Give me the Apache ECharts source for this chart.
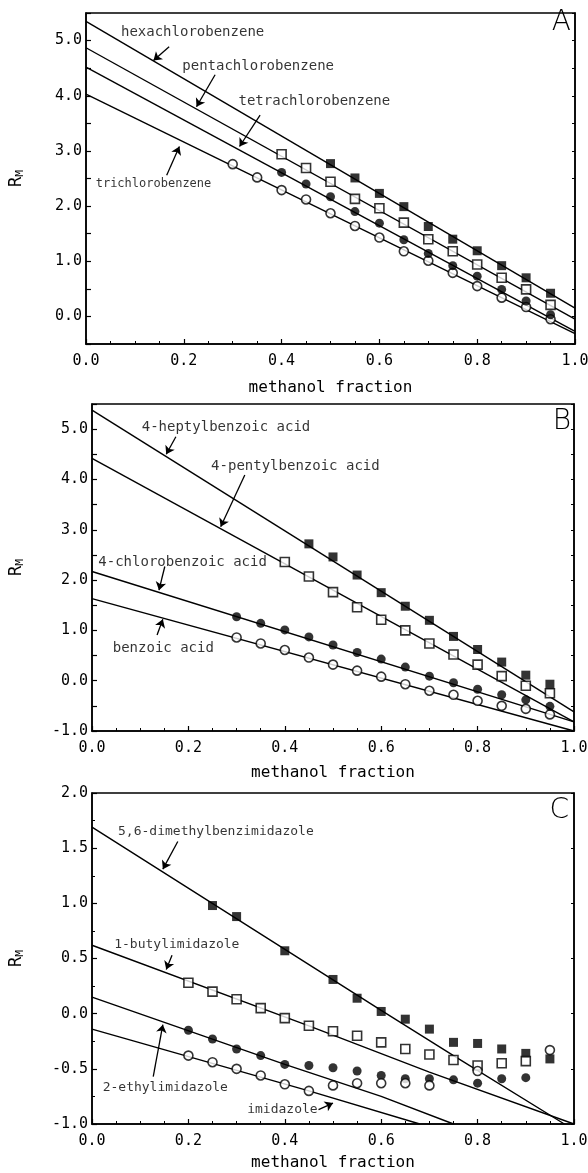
<!DOCTYPE html>
<html>
<head>
<meta charset="utf-8">
<title>RM vs methanol fraction</title>
<script src="https://cdn.jsdelivr.net/npm/echarts@6/dist/echarts.min.js"></script>
<style>
  html, body { margin: 0; padding: 0; background: #fff; }
  #chart { width: 588px; height: 1173px; }
</style>
</head>
<body>
<div id="chart"></div>
<script>
var mono = 'DejaVu Sans Mono'

// ---- panel A: chlorobenzenes
var xA = [0.30, 0.35, 0.40, 0.45, 0.50, 0.55, 0.60, 0.65, 0.70, 0.75, 0.80, 0.85, 0.90, 0.95]
var triA = [2.76, 2.52, 2.29, 2.12, 1.87, 1.64, 1.43, 1.18, 1.01, 0.79, 0.55, 0.34, 0.17, -0.05]
var tetraA = [null, null, 2.61, 2.40, 2.17, 1.90, 1.69, 1.39, 1.14, 0.92, 0.73, 0.49, 0.28, 0.03]
var pentaA = [null, null, 2.94, 2.69, 2.44, 2.13, 1.96, 1.70, 1.40, 1.18, 0.94, 0.70, 0.49, 0.21]
var hexaA = [null, null, null, null, 2.77, 2.51, 2.23, 1.99, 1.63, 1.40, 1.19, 0.92, 0.70, 0.42]
var fitTri = [[0, 4.03], [1, -0.31]]
var fitTetra = [[0, 4.52], [1, -0.27]]
var fitPenta = [[0, 4.87], [1, -0.05]]
var fitHexa = [[0, 5.35], [1, 0.15]]
var labelsA = [
  ['hexachlorobenzene', 0.218, 5.15, 14],
  ['pentachlorobenzene', 0.352, 4.53, 14],
  ['tetrachlorobenzene', 0.467, 3.89, 14],
  ['trichlorobenzene', 0.138, 2.41, 12]
]
var arrowsA = [
  [0.170, 4.89, 0.138, 4.64],
  [0.264, 4.38, 0.226, 3.80],
  [0.356, 3.65, 0.314, 3.08],
  [0.165, 2.56, 0.191, 3.08]
]

// ---- panel B: benzoic acids
var xB = [0.30, 0.35, 0.40, 0.45, 0.50, 0.55, 0.60, 0.65, 0.70, 0.75, 0.80, 0.85, 0.90, 0.95]
var benzoicB = [0.86, 0.74, 0.61, 0.46, 0.32, 0.20, 0.08, -0.07, -0.20, -0.28, -0.40, -0.50, -0.56, -0.67]
var chloroB = [1.27, 1.14, 1.01, 0.87, 0.71, 0.56, 0.43, 0.27, 0.09, -0.04, -0.17, -0.28, -0.38, -0.51]
var pentylB = [null, null, 2.36, 2.07, 1.76, 1.46, 1.21, 1.00, 0.74, 0.52, 0.32, 0.09, -0.10, -0.25]
var heptylB = [null, null, null, 2.72, 2.46, 2.10, 1.75, 1.48, 1.20, 0.88, 0.62, 0.37, 0.11, -0.07]
var fitBenzoic = [[0, 1.63], [1, -1.0]]
var fitChloro = [[0, 2.17], [1, -0.82]]
var fitPentyl = [[0, 4.42], [1, -0.82]]
var fitHeptyl = [[0, 5.38], [1, -0.62]]
var labelsB = [
  ['4-heptylbenzoic acid', 0.278, 5.03, 14],
  ['4-pentylbenzoic acid', 0.422, 4.27, 14],
  ['4-chlorobenzoic acid', 0.188, 2.35, 14],
  ['benzoic acid', 0.148, 0.64, 14]
]
var arrowsB = [
  [0.174, 4.85, 0.154, 4.50],
  [0.317, 4.09, 0.267, 3.06],
  [0.151, 2.27, 0.139, 1.80],
  [0.135, 0.91, 0.147, 1.22]
]

// ---- panel C: imidazoles
var xC = [0.20, 0.25, 0.30, 0.35, 0.40, 0.45, 0.50, 0.55, 0.60, 0.65, 0.70, 0.75, 0.80, 0.85, 0.90, 0.95]
var imidC = [-0.38, -0.44, -0.50, -0.56, -0.64, -0.70, -0.65, -0.63, -0.63, -0.63, -0.65, null, -0.52, null, null, -0.33]
var ethylC = [-0.15, -0.23, -0.32, -0.38, -0.46, -0.47, -0.49, -0.52, -0.56, -0.59, -0.59, -0.60, -0.63, -0.59, -0.58, null]
var butylC = [0.28, 0.20, 0.13, 0.05, -0.04, -0.11, -0.16, -0.20, -0.26, -0.32, -0.37, -0.42, -0.47, -0.45, -0.43, null]
var dimethylC = [null, 0.98, 0.88, null, 0.57, null, 0.31, 0.14, 0.02, -0.05, -0.14, -0.26, -0.27, -0.32, -0.36, -0.41]
var fitImid = [[0, -0.14], [0.45, -0.70], [0.68, -1.0]]
var fitEthyl = [[0, 0.15], [0.4, -0.46], [0.6, -0.75], [0.75, -1.0]]
var fitButyl = [[0, 0.62], [0.45, -0.11], [0.7, -0.53], [1.0, -1.0]]
var fitDimethyl = [[0, 1.69], [0.6, 0.03], [0.75, -0.38], [0.98, -1.0]]
var labelsC = [
  ['5,6-dimethylbenzimidazole', 0.257, 1.65, 13],
  ['1-butylimidazole', 0.176, 0.63, 13],
  ['2-ethylimidazole', 0.152, -0.67, 13],
  ['imidazole', 0.395, -0.87, 13]
]
var arrowsC = [
  [0.178, 1.56, 0.147, 1.31],
  [0.166, 0.53, 0.154, 0.40],
  [0.127, -0.57, 0.147, -0.10],
  [0.470, -0.87, 0.500, -0.81]
]

var chart = echarts.init(document.getElementById('chart'))

function pairs (xs, ys) {
  var out = []
  xs.forEach(function (x, i) {
    if (ys[i] !== null) out.push([x, ys[i]])
  })
  return out
}

var markers = {
  filledSquare: { symbol: 'rect', itemStyle: { color: '#000' } },
  openSquare: { symbol: 'rect', itemStyle: { color: '#fff', borderColor: '#000', borderWidth: 1.6 } },
  filledCircle: { symbol: 'circle', itemStyle: { color: '#000' } },
  openCircle: { symbol: 'circle', itemStyle: { color: '#fff', borderColor: '#000', borderWidth: 1.6 } }
}

function points (panel, xs, ys, kind) {
  return {
    type: 'scatter',
    xAxisIndex: panel,
    yAxisIndex: panel * 2,
    symbol: markers[kind].symbol,
    symbolSize: 9,
    itemStyle: markers[kind].itemStyle,
    z: 5,
    data: pairs(xs, ys)
  }
}

function fit (panel, line) {
  return {
    type: 'line',
    xAxisIndex: panel,
    yAxisIndex: panel * 2,
    symbol: 'none',
    lineStyle: { color: '#000', width: 1.4 },
    z: 3,
    data: line
  }
}

function notes (panel, labels, arrows) {
  return {
    type: 'scatter',
    xAxisIndex: panel,
    yAxisIndex: panel * 2,
    symbolSize: 1,
    itemStyle: { color: 'rgba(0,0,0,0)' },
    silent: true,
    z: 6,
    data: labels.map(function (l) {
      return {
        value: [l[1], l[2]],
        label: {
          show: true,
          position: 'inside',
          formatter: l[0],
          fontFamily: mono,
          fontSize: l[3],
          color: '#000'
        }
      }
    }),
    markLine: {
      silent: true,
      symbol: ['none', 'arrow'],
      symbolSize: 8,
      label: { show: false },
      lineStyle: { color: '#000', width: 1.3, type: 'solid' },
      data: arrows.map(function (a) {
        return [{ coord: [a[0], a[1]] }, { coord: [a[2], a[3]] }]
      })
    }
  }
}

var grids = [
  { left: 86, top: 13, width: 489, height: 331 },
  { left: 92, top: 404, width: 482, height: 327 },
  { left: 92, top: 793, width: 482, height: 331 }
]
grids.forEach(function (g) {
  g.show = true
  g.borderColor = '#000'
  g.borderWidth = 1.5
  g.containLabel = false
  g.outerBoundsMode = 'none'
})

var xNameGaps = [36, 34, 31]

var yRanges = [
  { min: -0.5, max: 5.5, minor: 1, gap: 60 },
  { min: -1, max: 5.5, minor: 1, gap: 66 },
  { min: -1, max: 2, minor: 2, gap: 66 }
]

var xAxes = grids.map(function (g, i) {
  return {
    type: 'value',
    gridIndex: i,
    min: 0,
    max: 1,
    interval: 0.2,
    name: 'methanol fraction',
    nameLocation: 'middle',
    nameGap: xNameGaps[i],
    nameTextStyle: { fontFamily: mono, fontSize: 16, color: '#000' },
    axisLine: { onZero: false, lineStyle: { color: '#000', width: 1.5 } },
    axisTick: { inside: true, length: 5, lineStyle: { color: '#000', width: 1.2 } },
    minorTick: { show: true, splitNumber: 4, length: 3, lineStyle: { color: '#000', width: 1 } },
    splitLine: { show: false },
    axisLabel: {
      margin: 10,
      fontFamily: mono,
      fontSize: 15,
      color: '#000',
      formatter: function (v) { return v.toFixed(1) }
    }
  }
})

var yAxes = []
yRanges.forEach(function (r, i) {
  yAxes.push({
    type: 'value',
    gridIndex: i,
    position: 'left',
    min: r.min,
    max: r.max,
    interval: 0.5,
    name: '{r|R}{m|M}',
    nameLocation: 'middle',
    nameGap: r.gap,
    nameRotate: 90,
    nameTextStyle: {
      color: '#000',
      rich: {
        r: { fontFamily: mono, fontSize: 17, color: '#000' },
        m: { fontFamily: mono, fontSize: 11, color: '#000', padding: [8, 0, 0, 0] }
      }
    },
    axisLine: { onZero: false, lineStyle: { color: '#000', width: 1.5 } },
    axisTick: { inside: true, length: 5, lineStyle: { color: '#000', width: 1.2 } },
    minorTick: { show: r.minor > 1, splitNumber: r.minor, length: 3, lineStyle: { color: '#000', width: 1 } },
    splitLine: { show: false },
    axisLabel: {
      margin: 4,
      fontFamily: mono,
      fontSize: 15,
      color: '#000',
      formatter: function (v) {
        if (i < 2 && Math.abs(v - Math.round(v)) > 1e-6) return ''
        return v.toFixed(1)
      }
    }
  })
  yAxes.push({
    type: 'value',
    gridIndex: i,
    position: 'right',
    min: r.min,
    max: r.max,
    interval: 0.5,
    axisLine: { show: true, onZero: false, lineStyle: { color: '#000', width: 1.5 } },
    axisTick: { inside: true, length: 3, lineStyle: { color: '#000', width: 1 } },
    axisLabel: { show: false },
    splitLine: { show: false }
  })
})

var letterStyle = { fontFamily: 'DejaVu Sans', fontSize: 28, fontWeight: 200, color: '#000' }

var options = {
  animation: false,
  backgroundColor: '#fff',
  title: [
    { text: 'A', right: 17, top: 9, padding: 0, textStyle: letterStyle },
    { text: 'B', right: 17, top: 408, padding: 0, textStyle: letterStyle },
    { text: 'C', right: 19, top: 797, padding: 0, textStyle: letterStyle }
  ],
  grid: grids,
  xAxis: xAxes,
  yAxis: yAxes,
  series: [
    fit(0, fitTri), fit(0, fitTetra), fit(0, fitPenta), fit(0, fitHexa),
    points(0, xA, triA, 'openCircle'),
    points(0, xA, tetraA, 'filledCircle'),
    points(0, xA, pentaA, 'openSquare'),
    points(0, xA, hexaA, 'filledSquare'),
    notes(0, labelsA, arrowsA),

    fit(1, fitBenzoic), fit(1, fitChloro), fit(1, fitPentyl), fit(1, fitHeptyl),
    points(1, xB, benzoicB, 'openCircle'),
    points(1, xB, chloroB, 'filledCircle'),
    points(1, xB, pentylB, 'openSquare'),
    points(1, xB, heptylB, 'filledSquare'),
    notes(1, labelsB, arrowsB),

    fit(2, fitImid), fit(2, fitEthyl), fit(2, fitButyl), fit(2, fitDimethyl),
    points(2, xC, dimethylC, 'filledSquare'),
    points(2, xC, butylC, 'openSquare'),
    points(2, xC, ethylC, 'filledCircle'),
    points(2, xC, imidC, 'openCircle'),
    notes(2, labelsC, arrowsC)
  ]
}

chart.setOption(options)
</script>
</body>
</html>
